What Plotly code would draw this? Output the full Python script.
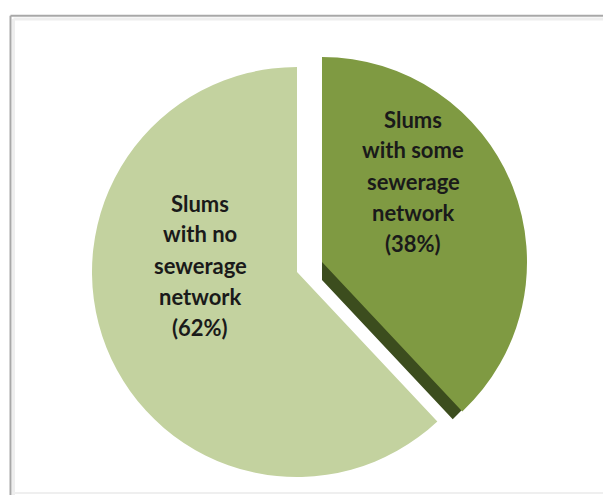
import plotly.graph_objects as go

# ---- data ----
labels = ["Slums with some sewerage network", "Slums with no sewerage network"]
values = [38, 62]
label_lines = [["Slums", "with some", "sewerage", "network"],
               ["Slums", "with no", "sewerage", "network"]]
colors_top = ["#7f9a42", "#c3d29f"]
color_side = "#3c4d1e"

W, H = 603, 495
CLEAR = "rgba(0,0,0,0)"


def dom(cx, cy, r):
    """pixel centre / radius -> paper domain"""
    return dict(x=[(cx - r) / W, (cx + r) / W],
                y=[1 - (cy + r) / H, 1 - (cy - r) / H])


common = dict(labels=labels, values=values, sort=False, direction="clockwise",
              rotation=0, textinfo="none", hoverinfo="skip", showlegend=False)

fig = go.Figure()
# large slice
fig.add_trace(go.Pie(**common, domain=dom(297, 272, 205),
                     marker=dict(colors=[CLEAR, colors_top[1]], line=dict(width=0))))
# side face of exploded slice (3-D thickness)
fig.add_trace(go.Pie(**common, domain=dom(322, 280, 191),
                     marker=dict(colors=[color_side, CLEAR], line=dict(width=0))))
# exploded slice top face
fig.add_trace(go.Pie(**common, domain=dom(322, 262, 205),
                     marker=dict(colors=[colors_top[0], CLEAR], line=dict(width=0))))

# labels
annotations = []
label_pos = [(413, 119), (200, 203)]
for lines, v, (lx, ly) in zip(label_lines, values, label_pos):
    for i, t in enumerate(lines + [f"({v}%)"]):
        annotations.append(dict(
            text=t, x=lx / W, y=1 - (ly + i * 31) / H, xref="paper", yref="paper",
            xanchor="center", yanchor="middle", showarrow=False,
            font=dict(family="Lato", size=22, color="#1a1a1a", weight="bold")))

# frame
shapes = [
    dict(type="line", xref="paper", yref="paper", x0=10.5 / W, x1=1, y0=1 - 15.7 / H, y1=1 - 15.7 / H,
         line=dict(color="#a8a8a8", width=2)),
    dict(type="line", xref="paper", yref="paper", x0=10.5 / W, x1=10.5 / W, y0=1 - 15.7 / H, y1=0,
         line=dict(color="#a8a8a8", width=2)),
    dict(type="line", xref="paper", yref="paper", x0=13.5 / W, x1=1, y0=1 - 19 / H, y1=1 - 19 / H,
         line=dict(color="#eeeeee", width=3)),
    dict(type="line", xref="paper", yref="paper", x0=13.5 / W, x1=13.5 / W, y0=1 - 19 / H, y1=0,
         line=dict(color="#eeeeee", width=3)),
    dict(type="line", xref="paper", yref="paper", x0=12 / W, x1=1, y0=1 - 493 / H, y1=1 - 493 / H,
         line=dict(color="#efefef", width=2)),
]

fig.update_layout(width=W, height=H, margin=dict(l=0, r=0, t=0, b=0),
                  paper_bgcolor="white", plot_bgcolor="white",
                  annotations=annotations, shapes=shapes)

fig.write_html("out.html", config={"displayModeBar": False},
               post_script="document.body.style.margin='0';document.body.style.overflow='hidden';")
